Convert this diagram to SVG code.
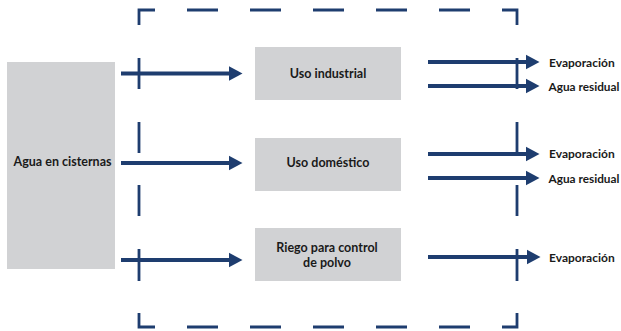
<svg xmlns="http://www.w3.org/2000/svg" width="621" height="331" viewBox="0 0 621 331">
<style>
.box{fill:#d1d2d4}
.lbl{font-family:Lato,"Liberation Sans",sans-serif;font-weight:700;font-size:12.5px;fill:#1a1a1a}
.out{font-size:12px}
.res{font-size:11.8px}
.mid{text-anchor:middle}
.arr{stroke:#1e3d6f;stroke-width:4;fill:none}
.dash{stroke:#1e3d6f;stroke-width:2.8;fill:none}
</style>
<defs>
<marker id="ah" markerUnits="userSpaceOnUse" markerWidth="14" markerHeight="16" viewBox="0 0 14 16" refX="0.5" refY="8" orient="auto">
<path d="M0,0.5 L14,8 L0,15.5 z" fill="#1e3d6f"/>
</marker>
</defs>
<rect width="621" height="331" fill="#ffffff"/>
<g id="boundary">
<path class="dash" d="M139,25 V10 H155 M187,10 H218 M250,10 H281 M313,10 H344 M376,10 H407 M439,10 H470 M502,10 H517 V25
M139,58 V89 M139,122 V153 M139,185 V216 M139,249 V281
M517,58 V89 M517,122 V153 M517,185 V216 M517,249 V281
M139,313 V327 H155 M187,327 H218 M250,327 H281 M313,327 H344 M376,327 H407 M439,327 H470 M502,327 H517 V313"/>
</g>
<g id="source">
<rect class="box" x="7" y="62" width="108" height="207"/>
<text class="lbl mid" x="62.5" y="166">Agua en cisternas</text>
</g>
<g id="industrial">
<rect class="box" x="255" y="47" width="146" height="53"/>
<text class="lbl mid" x="328" y="78">Uso industrial</text>
</g>
<g id="domestico">
<rect class="box" x="255" y="138" width="146" height="53"/>
<text class="lbl mid" x="328" y="167">Uso doméstico</text>
</g>
<g id="riego">
<rect class="box" x="255" y="228" width="146" height="53"/>
<text class="lbl mid" x="327" y="252">Riego para control</text>
<text class="lbl mid" x="327" y="267">de polvo</text>
</g>
<g id="outputs">
<text class="lbl out" x="549" y="66.5">Evaporación</text>
<text class="lbl res" x="548.5" y="91">Agua residual</text>
<text class="lbl out" x="549" y="158">Evaporación</text>
<text class="lbl res" x="548.5" y="183">Agua residual</text>
<text class="lbl out" x="549" y="262">Evaporación</text>
</g>
<g id="connectors">
<line class="arr" x1="121" y1="73.5" x2="229" y2="73.5" marker-end="url(#ah)"/>
<line class="arr" x1="121" y1="163" x2="229" y2="163" marker-end="url(#ah)"/>
<line class="arr" x1="121" y1="260" x2="229" y2="260" marker-end="url(#ah)"/>
<line class="arr" x1="428" y1="62" x2="526" y2="62" marker-end="url(#ah)"/>
<line class="arr" x1="428" y1="86" x2="526" y2="86" marker-end="url(#ah)"/>
<line class="arr" x1="428" y1="154" x2="526" y2="154" marker-end="url(#ah)"/>
<line class="arr" x1="428" y1="178" x2="526" y2="178" marker-end="url(#ah)"/>
<line class="arr" x1="428" y1="257" x2="527" y2="257" marker-end="url(#ah)"/>
</g>
</svg>
